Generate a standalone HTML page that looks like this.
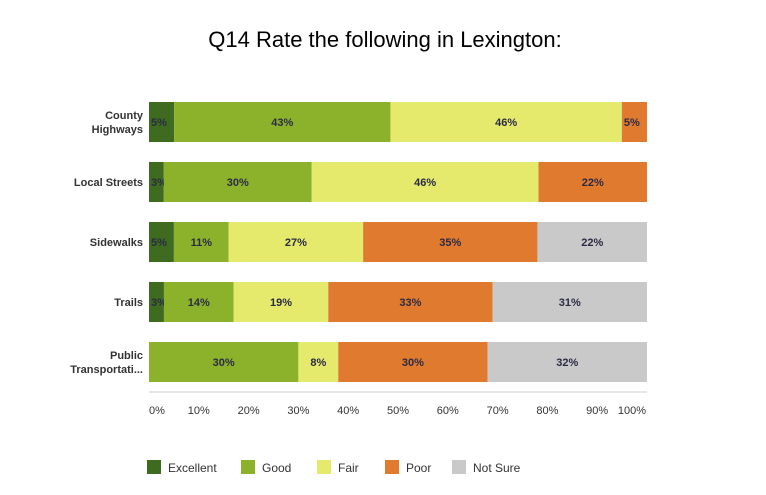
<!DOCTYPE html>
<html><head><meta charset="utf-8"><style>
body{margin:0;background:#fff;width:766px;height:490px;overflow:hidden;font-family:"Liberation Sans",sans-serif}
</style></head><body>
<svg id="c" width="766" height="490">
<text x="385" y="47" text-anchor="middle" font-size="22" fill="#000">Q14 Rate the following in Lexington:</text>
</svg>
<script>
const categories=["County|Highways","Local Streets","Sidewalks","Trails","Public|Transportati..."];
const seriesNames=["Excellent","Good","Fair","Poor","Not Sure"];
const excellent=[5,3,5,3,0];
const good=[43,30,11,14,30];
const fair=[46,46,27,19,8];
const poor=[5,22,35,33,30];
const notSure=[0,0,22,31,32];
const ticks=["0%","10%","20%","30%","40%","50%","60%","70%","80%","90%","100%"];
const colors=["#3e6b1f","#8cb22b","#e5ea6c","#df7a2f","#c9c9c9"];
const svg=document.getElementById('c');const NS="http://www.w3.org/2000/svg";
const X0=149,W=498;const xs=p=>X0+W*p/100;
function el(t,a,txt){const e=document.createElementNS(NS,t);for(const k in a)e.setAttribute(k,a[k]);if(txt!=null)e.textContent=txt;svg.appendChild(e);return e;}
const series=[excellent,good,fair,poor,notSure];
const ax=el('line',{x1:149,x2:647,y1:392,y2:392,stroke:'#ccc'});


ticks.forEach((t,i)=>{const e=el('text',{x:xs(i*10)+(i==0?8:i==10?-15:0),y:414,'text-anchor':'middle','font-size':11,fill:'#333'},t);

});
categories.forEach((c,i)=>{const y=102+i*60;const tot=series.reduce((s,a)=>s+a[i],0);let acc=0;
 const lines=c.split('|');lines.forEach((l,j)=>{const t=el('text',{x:143,y:y+24+(lines.length==2?(j?7:-7):0),'text-anchor':'end','font-size':11,'font-weight':'bold',fill:'#333'},l);
 
 });
 series.forEach((s,k)=>{const v=s[i];if(!v)return;const x1=xs(acc/tot*100),x2=xs((acc+v)/tot*100);acc+=v;
  const r=el('rect',{x:x1,y:y,width:x2-x1,height:40,fill:colors[k]});
  
  
  const tx=v<=5?x1+2:(x1+x2)/2;
  const t=el('text',{x:tx,y:y+24,'text-anchor':v<=5?'start':'middle','font-size':11,'font-weight':'600',fill:'#2b2b44'},v+'%');
  
  });});
const lx=[147,241,317,385,452];
seriesNames.forEach((n,k)=>{const r=el('rect',{x:lx[k],y:460,width:14,height:14,fill:colors[k]});


const t=el('text',{x:lx[k]+21,y:472,'font-size':12,fill:'#333'},n);

});
</script>
</body></html>
